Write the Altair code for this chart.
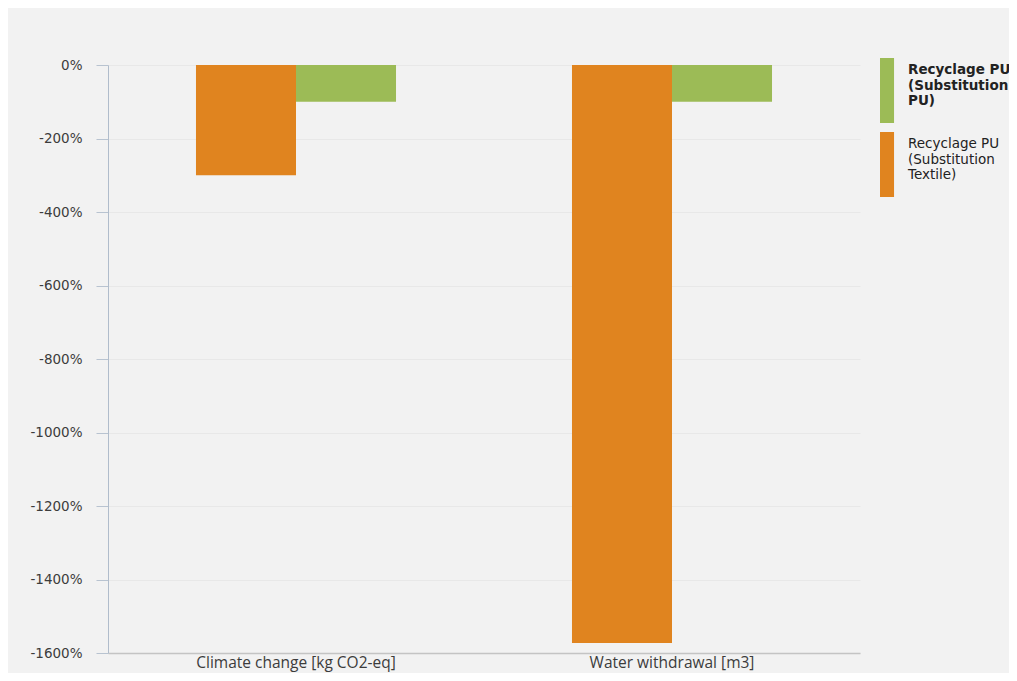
import json
import altair as alt
import pandas as pd

categories = ["Climate change [kg CO2-eq]", "Water withdrawal [m3]"]
series_names = ["Recyclage PU (Substitution PU)", "Recyclage PU (Substitution Textile)"]
series_label_lines = [["Recyclage PU", "(Substitution", "PU)"],
                      ["Recyclage PU", "(Substitution", "Textile)"]]
series_colors = ["#9cbb56", "#e0841f"]
values_substitution_pu = [-100, -100]
values_substitution_textile = [-300, -1573]
y_ticks = list(range(-1600, 1, 200))

rows = []
for i, c in enumerate(categories):
    rows.append({"category": c, "series": series_names[1], "value": values_substitution_textile[i]})
    rows.append({"category": c, "series": series_names[0], "value": values_substitution_pu[i]})
df = pd.DataFrame(rows)

label_expr = "datum.value == {} ? {} : {}".format(
    json.dumps(series_names[0]), json.dumps(series_label_lines[0]), json.dumps(series_label_lines[1])
)
weight_expr = "datum.value == {} ? 'bold' : 'normal'".format(json.dumps(series_names[0]))

chart = alt.Chart(df).mark_bar().encode(
    x=alt.X("category:N", sort=categories, title=None,
            scale=alt.Scale(paddingInner=0.468, paddingOuter=0.234),
            axis=alt.Axis(labelAngle=0, labelFont="Open Sans", labelFontSize=15.5,
                          labelColor="#3c3c3c", labelPadding=2, ticks=False,
                          labelLimit=400,
                          domainColor="#c4c4c4", domainWidth=1.5, grid=False)),
    xOffset=alt.XOffset("series:N", sort=[series_names[1], series_names[0]],
                        scale=alt.Scale(paddingInner=0, paddingOuter=0)),
    y=alt.Y("value:Q", title=None,
            scale=alt.Scale(domain=[-1600, 0], nice=False),
            axis=alt.Axis(values=y_ticks, labelExpr="datum.value + '%'",
                          labelFont="DejaVu Sans", labelFontSize=13.5, labelColor="#3c3c3c",
                          tickSize=12, tickColor="#b8c3d0", labelPadding=14,
                          domainColor="#b0bccb", domainWidth=1,
                          grid=True, gridColor="#e8e8e8")),
    color=alt.Color("series:N", title=None,
                    scale=alt.Scale(domain=series_names, range=series_colors),
                    legend=alt.Legend(orient="none", legendX=772, legendY=-7,
                                      symbolType="M-1,-1H0.17V4.42H-1Z",
                                      symbolSize=576, symbolStrokeWidth=0,
                                      symbolOpacity=1, rowPadding=8,
                                      labelExpr=label_expr,
                                      labelFontWeight=alt.ExprRef(weight_expr),
                                      labelFont="DejaVu Sans", labelFontSize=13.5,
                                      labelColor="#222222", labelOffset=4,
                                      labelLimit=300, padding=0)),
).properties(
    width=752, height=588,
    background="#f2f2f2",
    padding={"left": 100, "top": 57, "right": 149, "bottom": 20},
    autosize=alt.AutoSizeParams(type="none"),
).configure_view(stroke=None)

chart.save("out.html", embed_options={"renderer": "svg", "actions": False})
